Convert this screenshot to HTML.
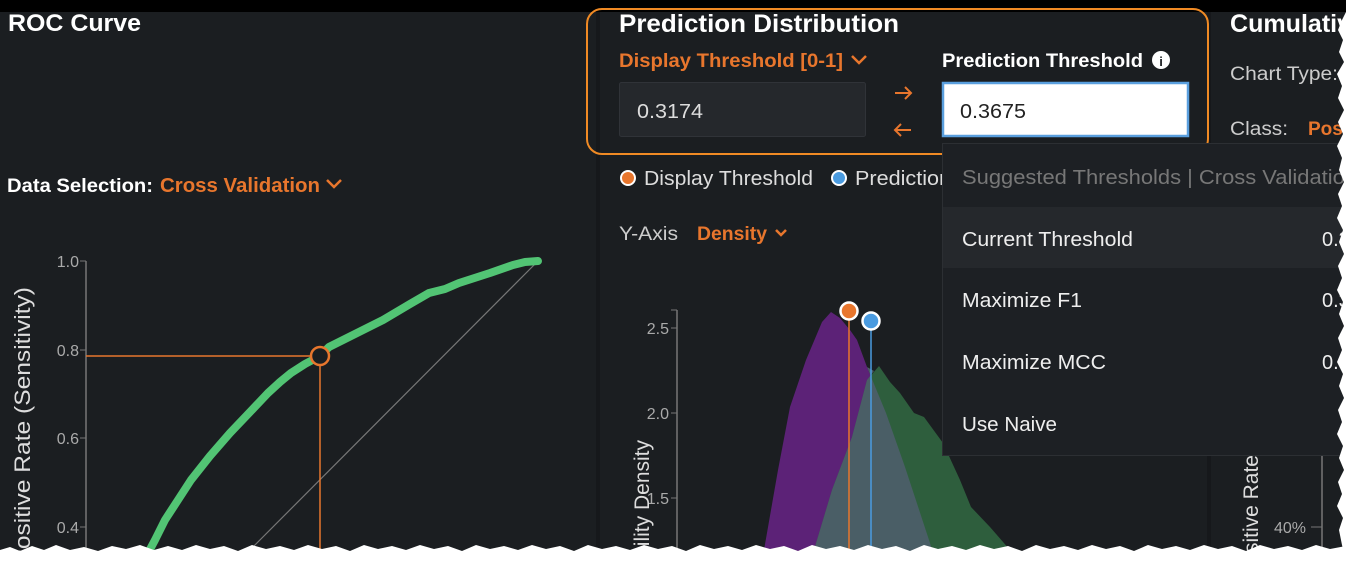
<!DOCTYPE html>
<html><head><meta charset="utf-8"><style>
html,body{margin:0;padding:0;background:#fff;overflow:hidden;}
svg{display:block;font-family:"Liberation Sans",sans-serif;}
</style></head><body>
<svg width="1346" height="562" viewBox="0 0 1346 562" xmlns="http://www.w3.org/2000/svg">
<rect x="0" y="0" width="1346" height="562" fill="#1b1e21"/>
<rect x="0" y="0" width="1346" height="12" fill="#000"/>
<rect x="596" y="12" width="4" height="550" fill="#16181b"/>
<rect x="1207" y="12" width="4" height="550" fill="#16181b"/>

<!-- ROC panel -->
<text x="8" y="31" fill="#fff" font-size="24" font-weight="bold" textLength="133" lengthAdjust="spacingAndGlyphs">ROC Curve</text>
<text x="7" y="192" fill="#fff" font-size="19" font-weight="bold" textLength="146" lengthAdjust="spacingAndGlyphs">Data Selection:</text>
<text x="160" y="192" fill="#e8762d" font-size="20" font-weight="bold" textLength="160" lengthAdjust="spacingAndGlyphs">Cross Validation</text>
<path d="M327 180 l7 7 l7 -7" stroke="#e8762d" stroke-width="2.5" fill="none"/>
<line x1="86" y1="261" x2="86" y2="562" stroke="#777" stroke-width="1.5"/>
<g fill="#aaa" font-size="16" text-anchor="end">
<text x="79" y="267">1.0</text><line x1="80" y1="261" x2="86" y2="261" stroke="#777"/>
<text x="79" y="356">0.8</text><line x1="80" y1="350" x2="86" y2="350" stroke="#777"/>
<text x="79" y="444">0.6</text><line x1="80" y1="438" x2="86" y2="438" stroke="#777"/>
<text x="79" y="533">0.4</text><line x1="80" y1="527" x2="86" y2="527" stroke="#777"/>
</g>
<text transform="translate(30,287) rotate(-90)" fill="#ddd" font-size="22" text-anchor="end" textLength="335" lengthAdjust="spacingAndGlyphs">True Positive Rate (Sensitivity)</text>
<line x1="538" y1="261" x2="238" y2="562" stroke="#777" stroke-width="1.2"/>
<line x1="86" y1="356" x2="310" y2="356" stroke="#e8762d" stroke-width="1.5"/>
<line x1="320" y1="366" x2="320" y2="562" stroke="#e8762d" stroke-width="1.5"/>
<polyline points="538,261 525,262 513,265 490,273 459,283 445,289 429,293 410,304 383,320 355,334 329,347 320,356 305,364 291,373 280,382 268,393 250,412 230,433 210,456 191,480 178,500 165,520 155,540 147,555 143,562" fill="none" stroke="#52c474" stroke-width="8" stroke-linejoin="round" stroke-linecap="round"/>
<circle cx="320" cy="356" r="9" fill="#1b1e21" stroke="#e8762d" stroke-width="2.5"/>

<!-- Prediction Distribution -->
<text x="619" y="32" fill="#fff" font-size="25" font-weight="bold" textLength="280" lengthAdjust="spacingAndGlyphs">Prediction Distribution</text>
<text x="619" y="67" fill="#e8762d" font-size="19" font-weight="bold" textLength="224" lengthAdjust="spacingAndGlyphs">Display Threshold [0-1]</text>
<path d="M852 56 l7 7 l7 -7" stroke="#e8762d" stroke-width="2.5" fill="none"/>
<rect x="619.5" y="82.5" width="246" height="54" rx="2" fill="#25282c" stroke="#303338"/>
<text x="637" y="118" fill="#ddd" font-size="20" textLength="66" lengthAdjust="spacingAndGlyphs">0.3174</text>
<g stroke="#e8762d" stroke-width="2" fill="none">
<path d="M895 93 h16 M905 87 l6 6 l-6 6"/>
<path d="M895 130 h16 M901 124 l-6 6 l6 6"/>
</g>
<text x="942" y="67" fill="#fff" font-size="19" font-weight="bold" textLength="201" lengthAdjust="spacingAndGlyphs">Prediction Threshold</text>
<circle cx="1161" cy="60" r="9" fill="#fff"/>
<text x="1161" y="66" fill="#1b1e21" font-size="13" font-weight="bold" text-anchor="middle">i</text>
<rect x="943" y="83" width="245" height="53" fill="#fff" stroke="#5a9fde" stroke-width="2.5"/>
<text x="960" y="118" fill="#222" font-size="20" textLength="66" lengthAdjust="spacingAndGlyphs">0.3675</text>
<rect x="587" y="9" width="621" height="145" rx="15" fill="none" stroke="#f08a24" stroke-width="2"/>

<circle cx="628" cy="178" r="7" fill="#e8762d" stroke="#fff" stroke-width="2"/>
<text x="644" y="185" fill="#ddd" font-size="20" textLength="169" lengthAdjust="spacingAndGlyphs">Display Threshold</text>
<circle cx="839" cy="178" r="7" fill="#4a9be0" stroke="#fff" stroke-width="2"/>
<text x="855" y="185" fill="#ddd" font-size="20" textLength="96" lengthAdjust="spacingAndGlyphs">Prediction</text>
<text x="619" y="240" fill="#ccc" font-size="19" textLength="59" lengthAdjust="spacingAndGlyphs">Y-Axis</text>
<text x="697" y="240" fill="#e8762d" font-size="19" font-weight="bold" textLength="70" lengthAdjust="spacingAndGlyphs">Density</text>
<path d="M776 230 l5 5 l5 -5" stroke="#e8762d" stroke-width="2.5" fill="none"/>

<line x1="677" y1="310" x2="677" y2="562" stroke="#777" stroke-width="1.5"/>
<line x1="671" y1="310" x2="677" y2="310" stroke="#777"/>
<g fill="#aaa" font-size="16" text-anchor="end">
<text x="669" y="334">2.5</text><line x1="671" y1="328" x2="677" y2="328" stroke="#777"/>
<text x="669" y="419">2.0</text><line x1="671" y1="413" x2="677" y2="413" stroke="#777"/>
<text x="669" y="504">1.5</text><line x1="671" y1="498" x2="677" y2="498" stroke="#777"/>
</g>
<text transform="translate(649,440) rotate(-90)" fill="#ddd" font-size="21" text-anchor="end">Probability Density</text>
<polygon points="756,562 764,550 778,470 790,407 806,360 822,322 831,312 840,318 850,330 857,340 867,367 886,413 905,467 929,540 936,562" fill="#5c2277"/>
<polygon points="808,562 814,550 832,490 852,437 867,380 879,366 890,382 900,393 914,413 924,417 943,443 960,480 971,507 990,527 1010,550 1016,562" fill="#2e5e3d"/>
<polygon points="808,562 814,550 832,490 852,437 867,380 874,371 867,367 886,413 905,467 929,540 936,562" fill="#4a5e66"/>
<line x1="849" y1="320" x2="849" y2="562" stroke="#e8762d" stroke-width="1.5"/>
<line x1="871" y1="330" x2="871" y2="562" stroke="#4a9be0" stroke-width="1.5"/>
<circle cx="849" cy="311" r="8.5" fill="#e8762d" stroke="#fff" stroke-width="2.5"/>
<circle cx="871" cy="321" r="8.5" fill="#4a9be0" stroke="#fff" stroke-width="2.5"/>

<!-- Right panel -->
<text x="1230" y="32" fill="#fff" font-size="25" font-weight="bold" textLength="135" lengthAdjust="spacingAndGlyphs">Cumulative</text>
<text x="1230" y="80" fill="#ccc" font-size="19" textLength="108" lengthAdjust="spacingAndGlyphs">Chart Type:</text>
<text x="1230" y="135" fill="#ccc" font-size="19" textLength="58" lengthAdjust="spacingAndGlyphs">Class:</text>
<text x="1308" y="135" fill="#e8762d" font-size="19" font-weight="bold">Positive</text>
<line x1="1322" y1="455" x2="1322" y2="562" stroke="#777" stroke-width="1.5"/>
<text x="1306" y="533" fill="#aaa" font-size="16" text-anchor="end">40%</text>
<line x1="1311" y1="527" x2="1322" y2="527" stroke="#777"/>
<text transform="translate(1258,455) rotate(-90)" fill="#ddd" font-size="21" text-anchor="end">True Positive Rate</text>

<!-- Dropdown -->
<rect x="942.5" y="143.5" width="420" height="312" fill="#1d2024" stroke="#2c2f33"/>
<text x="962" y="184" fill="#777" font-size="20" textLength="395" lengthAdjust="spacingAndGlyphs">Suggested Thresholds | Cross Validation</text>
<rect x="943" y="207" width="420" height="61" fill="#25282c"/>
<text x="962" y="246" fill="#eee" font-size="20" textLength="171" lengthAdjust="spacingAndGlyphs">Current Threshold</text>
<text x="962" y="307" fill="#eee" font-size="20" textLength="120" lengthAdjust="spacingAndGlyphs">Maximize F1</text>
<text x="962" y="369" fill="#eee" font-size="20" textLength="144" lengthAdjust="spacingAndGlyphs">Maximize MCC</text>
<text x="962" y="431" fill="#eee" font-size="20" textLength="95" lengthAdjust="spacingAndGlyphs">Use Naive</text>
<g fill="#eee" font-size="20"><text x="1322" y="246">0.3</text><text x="1322" y="307">0.3</text><text x="1322" y="369">0.3</text></g>

<!-- torn edges -->
<polygon fill="#fff" points="1346,12 1342,20 1338,30 1343,40 1339,52 1344,62 1337,74 1342,86 1338,98 1344,110 1338,122 1343,134 1337,146 1342,158 1339,170 1344,182 1338,194 1342,206 1337,218 1343,230 1339,242 1344,254 1338,266 1342,278 1337,290 1343,302 1339,314 1344,326 1338,338 1342,350 1337,362 1343,374 1339,386 1344,398 1338,410 1342,422 1337,434 1343,446 1339,458 1344,470 1338,482 1342,494 1337,506 1343,518 1339,530 1342,545 1346,562"/>
<polygon fill="#fff" points="0,562 0,550 10,547 20,551 32,546 44,550 56,545 70,550 84,547 98,551 112,546 126,549 140,545 154,550 168,546 182,550 196,545 210,549 224,546 238,551 252,545 266,549 280,546 294,550 308,545 322,549 336,546 350,551 364,545 378,549 392,546 406,550 420,545 434,549 448,546 462,551 476,545 490,549 504,546 518,550 532,545 546,549 560,546 574,551 588,545 602,549 616,546 630,550 644,545 658,549 672,546 686,551 700,545 714,549 728,546 742,550 756,545 770,549 784,546 798,551 812,545 826,549 840,546 854,550 868,545 882,549 896,546 910,551 924,545 938,549 952,546 966,550 980,545 994,549 1008,546 1022,551 1036,545 1050,549 1064,546 1078,550 1092,545 1106,549 1120,546 1134,551 1148,545 1162,549 1176,546 1190,550 1204,545 1218,549 1232,546 1246,551 1260,545 1274,549 1288,546 1302,550 1316,545 1330,549 1346,546 1346,562"/>
</svg>
</body></html>
